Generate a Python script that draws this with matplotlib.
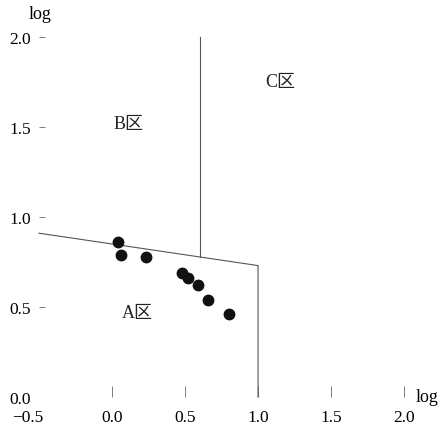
import matplotlib.pyplot as plt
import matplotlib.transforms as mtransforms

plt.rcParams['font.family'] = ['Liberation Serif', 'Noto Sans CJK SC']

# datos
pts_x = [0.04, 0.06, 0.23, 0.48, 0.52, 0.59, 0.66, 0.80]
pts_y = [0.86, 0.79, 0.78, 0.69, 0.66, 0.62, 0.54, 0.46]

# frontera de zonas
sep_x = [-0.5, 1.0, 1.0]
sep_y = [0.91, 0.73, 0.0]
vert_x = [0.60, 0.60]
vert_y = [0.78, 2.0]

zones = ['A区', 'B区', 'C区']
zone_x = [0.17, 0.11, 1.15]
zone_y = [0.47, 1.52, 1.75]

xticks = [-0.5, 0.0, 0.5, 1.0, 1.5, 2.0]
yticks = [0.0, 0.5, 1.0, 1.5, 2.0]

fig = plt.figure(figsize=(4.48, 4.27), dpi=100)
ax = fig.add_axes([0.087, 0.068, 0.815, 0.843])
ax.set_xlim(-0.5, 2.0)
ax.set_ylim(0.0, 2.0)

for s in ax.spines.values():
    s.set_visible(False)

ax.plot(sep_x, sep_y, color='#555555', lw=0.8, clip_on=False)
ax.plot(vert_x, vert_y, color='#555555', lw=0.8, clip_on=False)
ax.plot(pts_x, pts_y, 'o', color='#111111', ms=7.5, clip_on=False)

for t, x, y in zip(zones, zone_x, zone_y):
    ax.text(x, y, t, fontsize=13, ha='center', va='center', color='#222222')

ax.set_xticks(xticks)
ax.set_xticklabels(['\u22120.5', '0.0', '0.5', '1.0', '1.5', '2.0'])
ax.set_yticks(yticks)
ax.set_yticklabels(['0.0', '0.5', '1.0', '1.5', '2.0'])
ax.tick_params(axis='x', direction='in', length=8, width=0.6, color='#666666',
               labelsize=12.5, pad=9)
ax.tick_params(axis='y', direction='in', length=4, width=0.6, color='#666666',
               labelsize=12.5, pad=6)
# sin marcas en la esquina
ax.xaxis.get_major_ticks()[0].tick1line.set_visible(False)
ax.yaxis.get_major_ticks()[0].tick1line.set_visible(False)

# la etiqueta -0.5 va algo desplazada a la izquierda
lbl = ax.get_xticklabels()[0]
lbl.set_transform(lbl.get_transform() +
                  mtransforms.ScaledTranslation(-8 / 72, 0, fig.dpi_scale_trans))

ax.text(-0.49, 2.13, 'log', fontsize=13, ha='center', va='center', clip_on=False)
ax.text(2.08, 0.0, 'log', fontsize=13, ha='left', va='center', clip_on=False)

fig.savefig('out.png', dpi=100, facecolor='white')
